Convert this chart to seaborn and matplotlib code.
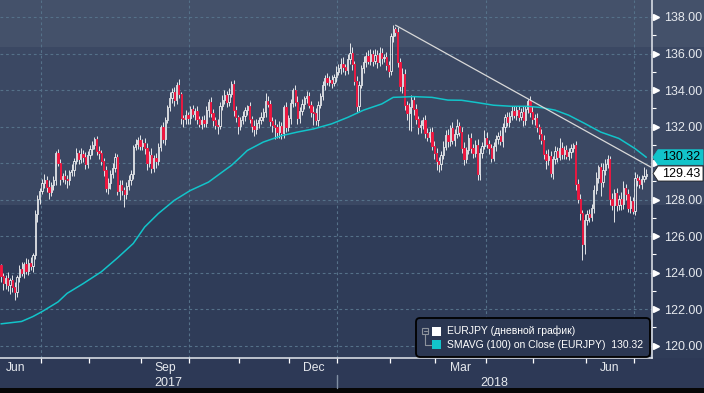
"""
EURJPY daily candles with 100-day SMA and a falling trend line,
drawn in the dark Bloomberg terminal look.
"""
import matplotlib
matplotlib.use("Agg")

import matplotlib.pyplot as plt
import matplotlib.patches as mpatches
import matplotlib.lines as mlines
import matplotlib.transforms as mtransforms
import seaborn as sns
import numpy as np
import pandas as pd

# ──────────────────────────────────────────────
# DATA (weekdays 7 Jun 2017 - 9 Jul 2018)
# ──────────────────────────────────────────────
first_open = 124.40

close = [
    123.80, 123.45, 123.70, 123.30, 123.60, 123.20, 122.95, 123.75, 124.20, 124.00,
    124.45, 124.10, 124.55, 124.35, 124.95, 127.20, 128.05, 128.50,                   # Jun 17
    128.90, 129.10, 128.70, 128.40, 128.80, 129.10, 130.55, 130.00, 129.15, 129.30,
    129.15, 129.05, 129.50, 129.60, 130.10, 130.55, 130.20, 130.50, 130.35, 129.95,
    130.45,                                                                           # Jul 17
    130.75, 131.00, 131.30, 130.65, 130.55, 130.10, 129.60, 128.65, 128.90, 129.40,
    129.75, 130.35, 128.45, 128.80, 128.55, 128.30, 128.75, 129.10, 129.40, 130.90,
    131.05, 131.25, 130.95,                                                           # Aug 17
    131.10, 130.80, 130.00, 130.45, 129.75, 130.30, 130.10, 130.90, 131.95, 131.30,
    132.35, 133.05, 133.55, 133.90, 133.45, 134.30, 133.80, 132.45, 132.40, 132.65,
    132.45,                                                                           # Sep 17
    132.95, 132.70, 132.85, 132.40, 132.15, 132.35, 132.20, 132.90, 133.35, 132.75,
    132.35, 132.10, 132.05, 133.15, 133.45, 133.75, 133.35, 133.80, 134.35, 132.90,
    132.50, 132.05,                                                                   # Oct 17
    132.35, 132.60, 132.90, 133.10, 132.40, 132.05, 131.85, 132.20, 132.35, 132.55,
    132.80, 133.40, 133.25, 132.30, 132.10, 131.95, 131.70, 132.05, 131.65, 133.05,
    132.00, 132.45,                                                                   # Nov 17
    133.30, 134.00, 133.35, 132.45, 132.85, 133.25, 133.55, 133.65, 133.20, 132.80,
    132.75, 132.35, 133.20, 133.70, 134.30, 134.65, 134.45, 134.55, 134.40, 134.70,
    135.00,                                                                           # Dec 17
    135.20, 135.45, 135.25, 135.10, 135.70, 136.05, 135.40, 134.50, 133.15, 134.30,
    135.20, 135.55, 135.85, 135.60, 135.95, 135.60, 135.90, 135.55, 136.05, 135.75,
    135.80, 135.35, 135.05,                                                           # Jan 18
    136.95, 137.35, 137.20, 135.55, 134.20, 134.90, 133.20, 132.75, 133.05, 133.45,
    132.95, 132.40, 131.95, 132.10, 132.35, 131.65, 131.45, 131.70, 130.95, 130.55,  # Feb 18
    130.10, 129.95, 130.45, 130.90, 131.55, 131.20, 131.90, 131.25, 131.60, 132.05,
    131.70, 130.85, 130.25, 130.70, 131.35, 130.85, 130.55, 131.00, 129.40, 130.55,
    130.95, 131.40,                                                                   # Mar 18
    131.05, 130.80, 130.30, 130.95, 131.30, 131.50, 131.20, 131.95, 132.55, 132.25,
    132.60, 132.85, 132.65, 132.90, 132.55, 132.80, 132.35, 132.95, 133.40, 132.80,
    132.40,                                                                           # Apr 18
    132.45, 131.95, 131.60, 131.25, 130.50, 130.15, 130.40, 129.45, 130.20, 130.65,
    130.35, 130.85, 130.50, 130.70, 130.40, 130.60, 130.85, 131.00, 128.85, 128.05,
    127.25, 125.55, 126.90,                                                           # May 18
    127.20, 127.05, 127.55, 128.55, 129.20, 129.80, 128.95, 129.65, 129.95, 130.20,
    128.05, 127.70, 128.35, 127.70, 128.05, 127.75, 128.65, 128.30, 127.55, 127.95,
    127.40,                                                                           # Jun 18
    129.20, 129.05, 128.85, 129.15, 129.30, 129.43,                                   # Jul 18
]

# wick lengths above / below the candle body
wick_up = [
    0.05, 0.20, 0.15, 0.35, 0.10, 0.25, 0.30, 0.15, 0.20, 0.40, 0.15, 0.35, 0.20, 0.30, 0.15, 0.25, 0.20, 0.15,
    0.25, 0.30, 0.20, 0.35, 0.15, 0.20, 0.10, 0.20, 0.25, 0.15, 0.30, 0.20, 0.15, 0.35, 0.20, 0.25, 0.15, 0.30,
    0.20, 0.25, 0.20,
    0.25, 0.20, 0.15, 0.20, 0.30, 0.15, 0.20, 0.25, 0.30, 0.20, 0.25, 0.20, 0.15, 0.25, 0.30, 0.15, 0.20, 0.25,
    0.20, 0.10, 0.25, 0.20, 0.30,
    0.20, 0.25, 0.30, 0.20, 0.35, 0.15, 0.25, 0.20, 0.15, 0.30, 0.20, 0.15, 0.35, 0.20, 0.25, 0.15, 0.30, 0.10,
    0.20, 0.25, 0.15,
    0.20, 0.25, 0.15, 0.30, 0.20, 0.25, 0.30, 0.20, 0.15, 0.25, 0.20, 0.15, 0.30, 0.20, 0.30, 0.25, 0.20, 0.30,
    0.15, 0.20, 0.25, 0.15,
    0.20, 0.25, 0.15, 0.10, 0.25, 0.20, 0.30, 0.20, 0.15, 0.25, 0.20, 0.45, 0.30, 0.20, 0.25, 0.30, 0.20, 0.25,
    0.20, 0.15, 0.30, 0.20,
    0.20, 0.10, 0.25, 0.30, 0.20, 0.25, 0.15, 0.30, 0.25, 0.20, 0.30, 0.25, 0.20, 0.15, 0.20, 0.15, 0.30, 0.20,
    0.25, 0.20, 0.30,
    0.25, 0.30, 0.35, 0.20, 0.30, 0.55, 0.30, 0.20, 0.25, 0.20, 0.15, 0.30, 0.25, 0.35, 0.30, 0.25, 0.35, 0.30,
    0.30, 0.25, 0.20, 0.30, 0.25,
    0.20, 0.20, 0.10, 0.25, 0.20, 0.30, 0.25, 0.20, 0.25, 0.30, 0.25, 0.30, 0.20, 0.25, 0.20, 0.30, 0.25, 0.20,
    0.30, 0.25,
    0.30, 0.25, 0.20, 0.30, 0.25, 0.30, 0.20, 0.35, 0.25, 0.35, 0.20, 0.25, 0.30, 0.20, 0.25, 0.30, 0.20, 0.25,
    0.30, 0.25, 0.20, 0.40,
    0.30, 0.20, 0.25, 0.20, 0.25, 0.20, 0.30, 0.25, 0.15, 0.25, 0.20, 0.25, 0.30, 0.20, 0.25, 0.20, 0.30, 0.20,
    0.10, 0.25, 0.30,
    0.25, 0.30, 0.20, 0.25, 0.30, 0.20, 0.35, 0.25, 0.20, 0.30, 0.25, 0.55, 0.30, 0.25, 0.30, 0.25, 0.20, 0.10,
    0.20, 0.30, 0.25, 0.20, 0.30,
    0.25, 0.30, 0.20, 0.25, 0.30, 0.10, 0.20, 0.35, 0.25, 0.25, 0.20, 0.30, 0.25, 0.30, 0.20, 0.35, 0.35, 0.20,
    0.30, 0.25, 0.20,
    0.30, 0.20, 0.25, 0.20, 0.50, 0.25,
]
wick_dn = [
    0.30, 0.40, 0.35, 0.30, 0.45, 0.25, 0.45, 0.30, 0.25, 0.20, 0.30, 0.15, 0.25, 0.20, 0.30, 0.20, 0.45, 0.30,
    0.20, 0.25, 0.30, 0.35, 0.20, 0.25, 0.30, 0.15, 0.35, 0.20, 0.30, 0.40, 0.25, 0.20, 0.30, 0.15, 0.25, 0.20,
    0.30, 0.25, 0.20,
    0.20, 0.30, 0.25, 0.20, 0.35, 0.20, 0.30, 0.25, 0.35, 0.30, 0.20, 0.25, 0.20, 0.45, 0.30, 0.70, 0.25, 0.20,
    0.30, 0.25, 0.20, 0.30, 0.25,
    0.25, 0.30, 0.35, 0.20, 0.30, 0.25, 0.35, 0.20, 0.25, 0.20, 0.30, 0.15, 0.20, 0.25, 0.30, 0.20, 0.25, 0.30,
    0.45, 0.25, 0.30,
    0.30, 0.20, 0.35, 0.25, 0.20, 0.30, 0.25, 0.20, 0.35, 0.20, 0.30, 0.25, 0.45, 0.20, 0.25, 0.20, 0.30, 0.25,
    0.20, 0.30, 0.25, 0.45,
    0.25, 0.20, 0.30, 0.25, 0.20, 0.35, 0.35, 0.25, 0.30, 0.20, 0.25, 0.30, 0.20, 0.25, 0.40, 0.65, 0.35, 0.30,
    0.35, 0.25, 0.30, 0.25,
    0.30, 0.25, 0.20, 0.30, 0.25, 0.20, 0.30, 0.25, 0.20, 0.30, 0.65, 0.25, 0.30, 0.20, 0.25, 0.30, 0.20, 0.25,
    0.30, 0.20, 0.25,
    0.20, 0.30, 0.25, 0.30, 0.20, 0.25, 0.30, 0.25, 0.35, 0.30, 0.20, 0.25, 0.30, 0.20, 0.25, 0.30, 0.20, 0.35,
    0.25, 0.30, 0.20, 0.25, 0.35,
    0.20, 0.30, 0.25, 0.30, 0.25, 0.35, 0.30, 0.40, 0.95, 1.30, 0.30, 0.25, 0.35, 0.30, 0.25, 0.30, 0.25, 0.30,
    0.25, 0.35,
    0.50, 0.45, 0.30, 0.25, 0.20, 0.30, 0.25, 0.20, 0.30, 0.25, 0.20, 0.30, 0.35, 0.25, 0.20, 0.30, 0.25, 0.20,
    0.35, 0.30, 0.25, 0.20,
    0.25, 0.30, 0.25, 0.20, 0.30, 0.25, 0.20, 0.30, 0.25, 0.20, 0.30, 0.25, 0.20, 0.30, 0.25, 0.20, 0.30, 0.25,
    0.20, 0.30, 0.25,
    0.30, 0.25, 0.30, 0.20, 0.30, 0.45, 0.25, 0.20, 0.30, 0.25, 0.30, 0.20, 0.25, 0.30, 0.20, 0.25, 0.30, 0.25,
    0.30, 0.25, 0.35, 0.85, 0.55,
    0.30, 0.25, 0.20, 0.30, 0.25, 0.30, 0.75, 0.25, 0.30, 0.20, 0.35, 0.25, 0.90, 0.30, 0.25, 0.30, 0.25, 0.30,
    0.20, 0.30, 0.20,
    0.25, 0.30, 0.20, 0.25, 0.20, 0.15,
]

# 100-day simple moving average, read at a set of bars
sma_bar = [0, 9, 14, 18, 25, 29, 36, 44, 51, 58, 63, 69, 76, 83, 91, 98, 101, 105, 108, 115,
           123, 130, 137, 145, 152, 159, 167, 172, 181, 189, 196, 202, 209, 216, 224, 231,
           237, 243, 249, 256, 263, 271, 278, 283]
sma_val = [121.20, 121.33, 121.60, 121.87, 122.40, 122.87, 123.40, 124.05, 124.80, 125.60,
           126.50, 127.24, 127.96, 128.50, 128.96, 129.60, 129.87, 130.33, 130.69, 131.15,
           131.50, 131.70, 131.87, 132.15, 132.50, 132.90, 133.24, 133.60, 133.64, 133.60,
           133.45, 133.44, 133.31, 133.17, 133.11, 133.11, 133.04, 132.90, 132.62, 132.17,
           131.70, 131.35, 130.80, 130.32]

# hand-drawn resistance line (from the Feb-2018 high)
trend_bar = [173, 285]
trend_val = [137.55, 129.78]

last_sma = 130.32
last_close = 129.43

y_ticks = [120, 122, 124, 126, 128, 130, 132, 134, 136, 138]
y_minor = [121, 123, 125, 127, 129, 131, 133, 135, 137]
month_names = {3: "Mar", 6: "Jun", 9: "Sep", 12: "Dec"}
legend_labels = ["EURJPY (дневной график)", "SMAVG (100) on Close (EURJPY)  130.32"]

# ──────────────────────────────────────────────
# COLOURS / STYLE
# ──────────────────────────────────────────────
BAND_TOP = "#44516a"
BAND_MID = "#3b4863"
BAND_LOW = "#2f3c58"
BAND_AXIS = "#2d3956"
GRID = "#557189"
RED = "#f5163f"
CYAN = "#12c4ca"
TEXT = "#e6e9ee"

sns.set_theme(style="dark")
plt.rcParams["font.family"] = ["Liberation Sans", "DejaVu Sans"]

W, H = 704, 393
fig = plt.figure(figsize=(W / 100, H / 100), dpi=100)
fig.patch.set_facecolor(BAND_AXIS)
PIX = mtransforms.IdentityTransform()

# background bands (pixel rows of the terminal gradient)
for y0, y1, col in [(0, 47, BAND_TOP), (47, 205, BAND_MID), (205, 358, BAND_LOW),
                    (358, 388, BAND_AXIS), (388, 393, "#060606")]:
    fig.add_artist(mpatches.Rectangle((0, H - y1), W, y1 - y0, transform=PIX,
                                      facecolor=col, edgecolor="none", zorder=-10))

ax = fig.add_axes([0, 35 / H, 652 / W, 358 / H])
ax.patch.set_visible(False)

# ──────────────────────────────────────────────
# CANDLES
# ──────────────────────────────────────────────
dates = pd.bdate_range("2017-06-07", "2018-07-09")
df = pd.DataFrame({"date": dates, "close": close, "up": wick_up, "dn": wick_dn})
df["open"] = [first_open] + close[:-1]
df["bar"] = np.arange(len(df))
df["top"] = df[["open", "close"]].max(axis=1)
df["bot"] = df[["open", "close"]].min(axis=1)
df["high"] = df["top"] + df["up"]
df["low"] = df["bot"] - df["dn"]
df["body"] = (df["top"] - df["bot"]).clip(lower=0.03)
rising = df["close"] >= df["open"]

ax.vlines(df["bar"], df["low"], df["bot"], color="white", lw=0.6, zorder=3)
ax.vlines(df["bar"], df["top"], df["high"], color="white", lw=0.6, zorder=3)
ax.bar(df.loc[rising, "bar"], df.loc[rising, "body"], bottom=df.loc[rising, "bot"],
       width=0.55, facecolor="none", edgecolor="white", lw=0.55, zorder=4)
ax.bar(df.loc[~rising, "bar"], df.loc[~rising, "body"], bottom=df.loc[~rising, "bot"],
       width=0.55, facecolor=RED, edgecolor=RED, lw=0.6, zorder=4)

sns.lineplot(x=sma_bar, y=sma_val, ax=ax, color=CYAN, lw=1.1, zorder=5)
sns.lineplot(x=trend_bar, y=trend_val, ax=ax, color="#d9d9d9", lw=0.9, zorder=6)

ax.set_xlim(-0.44, 285.5)
ax.set_ylim(119.33, 138.93)

# ──────────────────────────────────────────────
# AXES
# ──────────────────────────────────────────────
for side in ["left", "top"]:
    ax.spines[side].set_visible(False)
for side in ["bottom", "right"]:
    ax.spines[side].set_visible(True)
    ax.spines[side].set_color("#e4e8ee")
    ax.spines[side].set_linewidth(1.1)

ax.yaxis.tick_right()
ax.set_yticks(y_ticks)
# 130.00 sits under the last-value boxes, as in the terminal
ax.set_yticklabels(["" if v == 130 else f"{v:.2f}" for v in y_ticks])
ax.set_yticks(y_minor, minor=True)
ax.tick_params(axis="y", which="major", length=0, pad=9, labelsize=9, labelcolor=TEXT,
               right=True, left=False)
ax.tick_params(axis="y", which="minor", length=3, width=0.8, color="white",
               right=True, left=False)
ax.grid(axis="y", which="major", color=GRID, lw=0.8, ls=(0, (2.5, 2.5)))
ax.grid(axis="x", visible=False)

yx = mtransforms.blended_transform_factory(ax.transAxes, ax.transData)
ax.plot([1 + 4 / 652] * len(y_ticks), y_ticks, ls="none", marker=">", ms=4.5,
        color="white", mec="white", transform=yx, clip_on=False, zorder=6)

# month ticks from a full business-day calendar
full = pd.bdate_range("2017-06-01", "2018-07-31")
pos = pd.Series(np.arange(len(full)) - full.get_loc(dates[0]), index=full)
first_bar = pos.groupby([full.year, full.month]).min()
last_bar = pos.groupby([full.year, full.month]).max()
bounds = [b - 0.5 for b in first_bar.values if -0.44 < b - 0.5 < 285.5]
centers, names = [], []
for (yr, mo), b0 in first_bar.items():
    if mo in month_names:
        centers.append((b0 + last_bar[(yr, mo)]) / 2)
        names.append(month_names[mo])

ax.set_xticks(bounds)
ax.set_xticklabels([])
ax.set_xticks(centers, minor=True)
ax.set_xticklabels(names, minor=True)
ax.tick_params(axis="x", which="major", length=3.5, width=0.9, color="white",
               direction="out", bottom=True)
ax.tick_params(axis="x", which="minor", length=0, pad=3, labelsize=8.7, labelcolor=TEXT,
               bottom=True)

for b in bounds:
    if dates[int(b + 0.5)].month in (1, 4, 7, 10):
        ax.axvline(b, color=GRID, lw=0.8, ls=(0, (2.5, 2.5)), zorder=1)

# year row
year_split = float(pos[pd.Timestamp("2018-01-01")]) - 0.5
xpix = mtransforms.blended_transform_factory(ax.transData, PIX)
fig.add_artist(mlines.Line2D([year_split, year_split], [H - 375, H - 388], transform=xpix,
                             color="#8190a4", lw=1.0, zorder=4))
for label, x0, x1 in [("2017", -0.44, year_split), ("2018", year_split, 285.5)]:
    fig.text((x0 + x1) / 2, H - 383, label, transform=xpix, ha="center", va="center",
             fontsize=9, color=TEXT)

# ──────────────────────────────────────────────
# LAST-VALUE BOXES
# ──────────────────────────────────────────────
ppu = 358 / (138.93 - 119.33)
half = 7.5 / ppu
pxy = mtransforms.blended_transform_factory(PIX, ax.transData)
for val, face, edge in [(last_sma, CYAN, CYAN), (last_close, "white", "#202020")]:
    verts = [(653, val), (658, val + half), (703, val + half), (703, val - half), (658, val - half)]
    fig.add_artist(mpatches.Polygon(verts, closed=True, transform=pxy, facecolor=face,
                                    edgecolor=edge, lw=0.6, zorder=5))
    fig.text(662, val, f"{val:.2f}", transform=pxy, va="center", ha="left",
             fontsize=9, color="black", zorder=6)

# ──────────────────────────────────────────────
# LEGEND
# ──────────────────────────────────────────────
fig.add_artist(mpatches.FancyBboxPatch((416, H - 357), 234, 39, transform=PIX,
                                       boxstyle="round,pad=0,rounding_size=4",
                                       facecolor="#2b3752", edgecolor="black", lw=1.3, zorder=5))
fig.add_artist(mpatches.Rectangle((422, H - 334), 6, 6, transform=PIX, fill=False,
                                  edgecolor="#8d939c", lw=0.8, zorder=6))
fig.add_artist(mlines.Line2D([423.5, 426.5], [H - 331, H - 331], transform=PIX,
                             color="#8d939c", lw=0.8, zorder=6))
fig.add_artist(mlines.Line2D([425, 425, 431], [H - 334, H - 345, H - 345], transform=PIX,
                             color="#8d939c", lw=0.8, zorder=6))
for i, (label, col) in enumerate(zip(legend_labels, ["white", CYAN])):
    yc = 331 + 13.5 * i
    fig.add_artist(mpatches.Rectangle((432, H - yc - 4.5), 9, 9, transform=PIX,
                                      facecolor=col, edgecolor="none", zorder=6))
    fig.text(447, H - yc, label, transform=PIX, va="center", ha="left",
             fontsize=7.5, color="white", zorder=6)

fig.savefig("out.png", dpi=100, facecolor=fig.get_facecolor())
plt.close(fig)
